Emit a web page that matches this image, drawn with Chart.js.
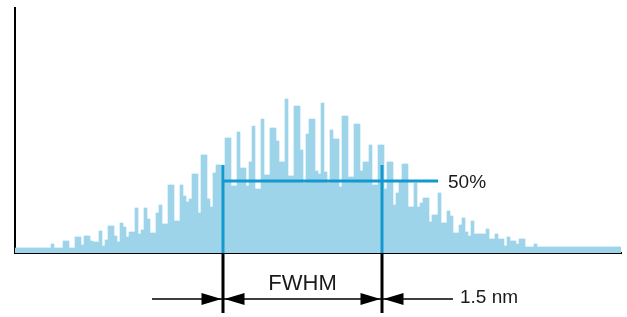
<!DOCTYPE html>
<html>
<head>
<meta charset="utf-8">
<script src="https://cdn.jsdelivr.net/npm/chart.js@4/dist/chart.umd.min.js"></script>
<style>
  html, body { margin: 0; padding: 0; background: #fff; }
  #wrap { width: 627px; height: 317px; position: relative; }
</style>
</head>
<body>
<div id="wrap"><canvas id="spectrum"></canvas></div>
<script>
// histogram counts, one per bin, left to right
const counts = [
  5, 5, 5, 5, 5, 5, 5, 5, 5, 5, 5, 5, 9, 5, 5, 5, 12, 12, 5, 5,
  16, 16, 8, 17, 17, 12, 11, 11, 22, 7, 13, 27, 27, 17, 11, 30, 26, 16, 21, 21,
  45, 19, 23, 45, 34, 20, 20, 40, 48, 29, 29, 68, 68, 32, 32, 68, 57, 51, 54, 79,
  79, 40, 98, 98, 54, 46, 80, 88, 88, 70, 115, 115, 67, 67, 121, 85, 85, 67, 91, 127,
  64, 64, 134, 78, 78, 125, 125, 112, 91, 91, 154, 77, 77, 147, 147, 103, 70, 119, 134, 134,
  82, 79, 150, 81, 70, 123, 114, 114, 66, 137, 137, 76, 76, 129, 129, 82, 91, 91, 108, 68,
  68, 108, 108, 64, 91, 91, 48, 60, 71, 89, 89, 46, 46, 70, 46, 50, 55, 55, 31, 38,
  38, 60, 30, 30, 42, 37, 20, 20, 28, 35, 21, 17, 32, 19, 19, 19, 19, 24, 14, 14,
  19, 14, 14, 7, 16, 12, 12, 9, 14, 14, 6, 6, 6, 9, 6, 6, 6, 6, 6, 6,
  6, 6, 6, 6, 6, 6, 6, 6, 6, 6, 6, 6, 6, 6, 6, 6, 6, 6, 6, 6,
  6, 6
];
const bins = counts.map((c, i) => 'b' + i);

// markers (in bin index / count units)
const fwhmFrom = 69;
const fwhmTo = 121.8;
const halfMaxLevel = 72;
const markerTop = 88;
const levelLineEnd = 140.5;
const yMax = 245;

const BAR = '#9dd4e9';
const LINE = '#1399cf';

const fwhmMarks = {
    id: 'fwhmMarks',
    afterDatasetsDraw(chart) {
        const { ctx, scales: { x, y } } = chart;
        const xl = Math.round(x.getPixelForValue(fwhmFrom));
        const xr = Math.round(x.getPixelForValue(fwhmTo));
        const yh = y.getPixelForValue(halfMaxLevel);
        const yTop = y.getPixelForValue(markerTop);
        const yBase = y.getPixelForValue(0);
        const xEnd = x.getPixelForValue(levelLineEnd);

        ctx.save();
        // blue half-max level and edges
        ctx.strokeStyle = LINE;
        ctx.lineWidth = 3;
        ctx.beginPath();
        ctx.moveTo(xl, yh); ctx.lineTo(xEnd, yh);
        ctx.moveTo(xl, yTop); ctx.lineTo(xl, yBase);
        ctx.moveTo(xr, yTop); ctx.lineTo(xr, yBase);
        ctx.stroke();

        // black markers under the axis
        const ay = 299;
        ctx.strokeStyle = '#000';
        ctx.lineWidth = 3;
        ctx.beginPath();
        ctx.moveTo(xl, yBase); ctx.lineTo(xl, 313);
        ctx.moveTo(xr, yBase); ctx.lineTo(xr, 313);
        ctx.stroke();

        ctx.lineWidth = 1.5;
        ctx.beginPath();
        ctx.moveTo(152, ay); ctx.lineTo(xl, ay);
        ctx.moveTo(xl, ay); ctx.lineTo(xr, ay);
        ctx.moveTo(xr, ay); ctx.lineTo(453, ay);
        ctx.stroke();

        ctx.fillStyle = '#000';
        const head = (tip, dir) => {
            ctx.beginPath();
            ctx.moveTo(tip, ay);
            ctx.lineTo(tip - dir * 20, ay - 6);
            ctx.lineTo(tip - dir * 20, ay + 6);
            ctx.closePath();
            ctx.fill();
        };
        head(xl - 1.5, 1);
        head(xl + 1.5, -1);
        head(xr - 1.5, 1);
        head(xr + 1.5, -1);

        // labels
        ctx.fillStyle = '#1a1a1a';
        ctx.textBaseline = 'alphabetic';
        ctx.font = '22px "Liberation Sans", Arial, sans-serif';
        ctx.textAlign = 'center';
        ctx.fillText('FWHM', (xl + xr) / 2, 290);
        ctx.textAlign = 'left';
        ctx.font = '19px "Liberation Sans", Arial, sans-serif';
        ctx.fillText('50%', xEnd + 10, yh + 7);
        ctx.fillText('1.5 nm', 460, 303);
        ctx.restore();
    }
};

new Chart(document.getElementById('spectrum'), {
    type: 'bar',
    data: {
        labels: bins,
        datasets: [{
            data: counts,
            backgroundColor: BAR,
            borderWidth: 0,
            barPercentage: 1,
            categoryPercentage: 1
        }]
    },
    options: {
        responsive: true,
        maintainAspectRatio: false,
        animation: false,
        layout: { padding: { left: 15, right: 6, top: 8, bottom: 64 } },
        plugins: { legend: { display: false }, tooltip: { enabled: false } },
        scales: {
            x: {
                ticks: { display: false },
                grid: { display: false, drawTicks: false },
                border: { display: true, color: '#000', width: 2 }
            },
            y: {
                min: 0,
                max: yMax,
                ticks: { display: false },
                grid: { display: false, drawTicks: false },
                border: { display: true, color: '#000', width: 2 }
            }
        }
    },
    plugins: [fwhmMarks]
});
</script>
</body>
</html>
